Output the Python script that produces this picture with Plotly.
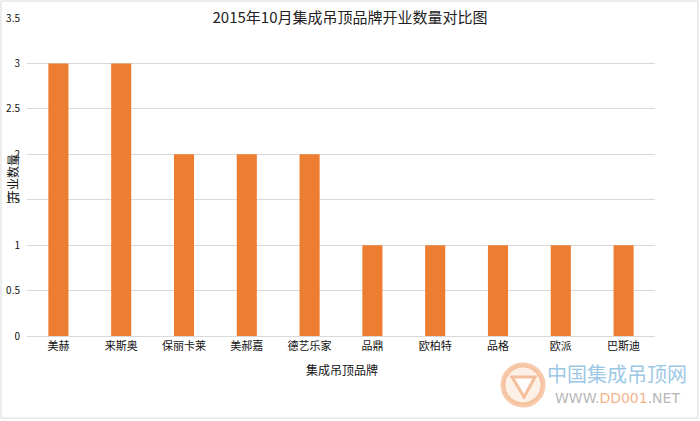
import plotly.graph_objects as go

brands = ["美赫", "来斯奥", "保丽卡莱", "美郝嘉", "德艺乐家", "品鼎", "欧柏特", "品格", "欧派", "巴斯迪"]
counts = [3, 3, 2, 2, 2, 1, 1, 1, 1, 1]
y_ticks = [0, 0.5, 1, 1.5, 2, 2.5, 3, 3.5]
y_tick_labels = ["0", "0.5", "1", "1.5", "2", "2.5", "3", "3.5"]

FONT = "Noto Sans CJK SC"
ML, MR, MT, MB = 27, 45, 18, 85
W, H = 700, 421
PW, PH = W - ML - MR, H - MT - MB

def px(x):
    return (x - ML) / PW

def py(y):
    return (H - MB - y) / PH

fig = go.Figure(go.Bar(
    x=brands, y=counts,
    marker=dict(color="#ED7D31", line=dict(width=0)),
    width=0.32,
))

fig.update_layout(
    width=W, height=H,
    margin=dict(l=ML, r=MR, t=MT, b=MB, autoexpand=False),
    paper_bgcolor="white", plot_bgcolor="white",
    font=dict(family=FONT, color="#000000"),
    showlegend=False,
    title=dict(text="2015年10月集成吊顶品牌开业数量对比图", x=0.5, xanchor="center",
               y=1 - 18 / H, yanchor="middle", font=dict(size=15, family=FONT, color="#222222")),
    xaxis=dict(showgrid=False, showline=True, linecolor="#D9D9D9", linewidth=1,
               tickfont=dict(size=11, family=FONT, color="#111111"), ticks="",
               range=[-0.5, 9.5], automargin=False),
    yaxis=dict(range=[0, 3.5], tickvals=y_ticks, ticktext=y_tick_labels,
               showgrid=True, gridcolor="#D9D9D9", gridwidth=1, zeroline=False,
               showline=False, ticks="", ticklabelstandoff=6, automargin=False,
               tickfont=dict(size=10, family=FONT, color="#111111")),
)

# axis titles
fig.add_annotation(text="集成吊顶品牌", xref="paper", yref="paper", x=px(342), y=py(369),
                   xanchor="center", yanchor="middle",
                   showarrow=False, font=dict(size=12, family=FONT, color="#111111"))
fig.add_annotation(text="开业数量", xref="paper", yref="paper", x=px(12), y=py(178),
                   xanchor="center", yanchor="middle",
                   showarrow=False, textangle=-90, font=dict(size=12, family=FONT, color="#111111"))

# outer border
fig.add_shape(type="rect", xref="paper", yref="paper",
              x0=px(1), x1=px(698), y0=py(418), y1=py(1),
              line=dict(color="#D9D9D9", width=1), fillcolor="rgba(0,0,0,0)", layer="below")

# watermark logo
fig.add_shape(type="circle", xref="paper", yref="paper",
              x0=px(503), x1=px(543), y0=py(405), y1=py(365),
              line=dict(color="rgba(240,150,90,0.5)", width=5), fillcolor="rgba(250,215,185,0.35)")
fig.add_shape(type="path", xref="paper", yref="paper",
              path=f"M {px(512)} {py(377)} L {px(535)} {py(377)} L {px(524)} {py(397)} Z",
              line=dict(color="rgba(240,160,110,0.65)", width=3), fillcolor="rgba(255,255,255,0.85)")
fig.add_annotation(text="中国集成吊顶网", xref="paper", yref="paper", x=px(617), y=py(389),
                   xanchor="center", yanchor="bottom", borderpad=0,
                   showarrow=False, font=dict(size=20, family=FONT, color="#9CC8E6"))
fig.add_annotation(text="WWW.<span style='color:#F2B48C'>DD001</span>.NET", xref="paper", yref="paper",
                   x=px(617), y=py(389), xanchor="center", yanchor="top", borderpad=0, showarrow=False,
                   font=dict(size=14, family="DejaVu Sans", color="#B8B8B8"))

fig.write_html("out.html", config={"displayModeBar": False},
               post_script="document.body.style.margin='0';document.body.style.overflow='hidden';")
